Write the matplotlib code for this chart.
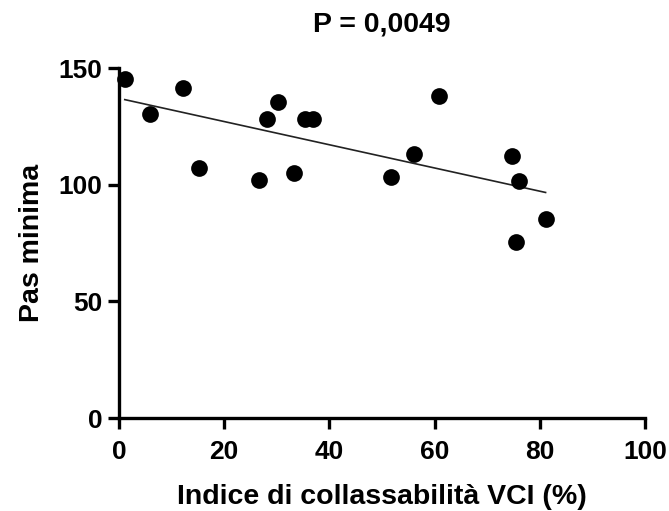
import numpy as np
import matplotlib
matplotlib.use("Agg")
import matplotlib.pyplot as plt

plt.rcParams['font.family'] = ['Liberation Sans', 'DejaVu Sans']

x_vals = [1.1, 5.9, 12.2, 15.3, 26.7, 28.1, 30.3, 33.2, 35.3, 36.8, 51.7, 56.1, 60.9, 74.8, 75.4, 76.0, 81.1]
y_vals = [145.3, 130.3, 141.4, 107.2, 102.0, 128.2, 135.4, 105.0, 128.2, 128.2, 103.3, 113.2, 138.0, 112.3, 75.4, 101.6, 85.3]
x_ticks = [0, 20, 40, 60, 80, 100]
y_ticks = [0, 50, 100, 150]
title = "P = 0,0049"
xlabel = "Indice di collassabilità VCI (%)"
ylabel = "Pas minima"

x = np.array(x_vals)
y = np.array(y_vals)
slope, intercept = np.polyfit(x, y, 1)
xl = np.array([x.min(), x.max()])

fig = plt.figure(figsize=(6.69, 5.11), dpi=100)
ax = fig.add_axes([119/669, 1-418/511, (645-119)/669, (418-68)/511])
ax.plot(xl, slope*xl + intercept, color='#222222', lw=1.2, zorder=2)
ax.scatter(x, y, s=145, color='black', zorder=3, clip_on=False, linewidths=0)

ax.set_xlim(0, 100)
ax.set_ylim(0, 150)
ax.set_xticks(x_ticks)
ax.set_yticks(y_ticks)
for s in ['top', 'right']:
    ax.spines[s].set_visible(False)
for s in ['left', 'bottom']:
    ax.spines[s].set_linewidth(2.4)
ax.tick_params(width=2.4, length=8, labelsize=19)
ax.tick_params(axis='x', pad=8)
ax.tick_params(axis='y', pad=4)
for lab in ax.get_xticklabels() + ax.get_yticklabels():
    lab.set_fontweight('bold')
ax.set_xlabel(xlabel, fontsize=20.5, fontweight='bold', labelpad=14)
ax.set_ylabel(ylabel, fontsize=20.5, fontweight='bold', labelpad=10)
ax.set_title(title, fontsize=20.5, fontweight='bold', pad=26)

fig.savefig("out.png", dpi=100)
